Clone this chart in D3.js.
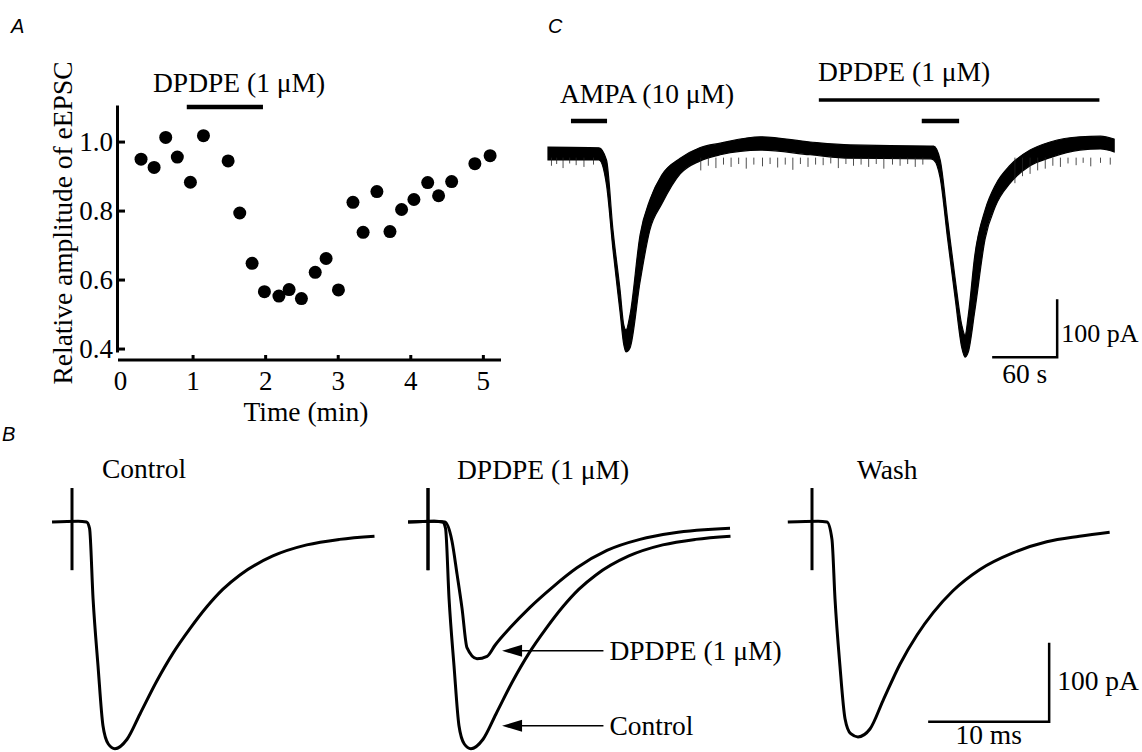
<!DOCTYPE html>
<html>
<head>
<meta charset="utf-8">
<script src="https://cdn.jsdelivr.net/npm/d3@7"></script>
<style>
  body { margin: 0; background: #fff; }
  text { font-family: "Liberation Serif", "Times New Roman", serif; fill: #000; font-size: 27.5px; }
  .letter { font-family: "Liberation Sans", Arial, sans-serif; font-style: italic; font-size: 20px; }
</style>
</head>
<body>
<div id="chart"></div>
<script>
// ---- panel A: relative eEPSC amplitude over time ----
const aTime = [0.29, 0.47, 0.63, 0.79, 0.97, 1.15, 1.49, 1.65, 1.82, 1.99, 2.19, 2.33, 2.50, 2.69,
  2.84, 3.01, 3.21, 3.35, 3.54, 3.72, 3.88, 4.05, 4.24, 4.39, 4.57, 4.89, 5.10];
const aAmp = [0.949, 0.925, 1.012, 0.955, 0.882, 1.017, 0.944, 0.793, 0.647, 0.565, 0.552, 0.571, 0.545, 0.621,
  0.661, 0.570, 0.824, 0.737, 0.855, 0.739, 0.803, 0.832, 0.881, 0.843, 0.884, 0.936, 0.959];
const aXTicks = [0, 1, 2, 3, 4, 5];
const aYTicks = [0.4, 0.6, 0.8, 1.0];
const aDrug = [0.92, 1.97];   // min

// ---- panel B: eEPSC traces (ms, pA) ----
const controlT = [-1.65, 0.5, 1.2, 1.45, 1.74, 2.15, 2.56, 3.0, 3.55, 4.55, 5.62, 7.02, 8.35, 9.75, 11.16, 12.48, 13.88, 16.6, 19.4, 22.1, 25.0];
const controlI = [0, 1, 0, -8, -97, -182, -258, -281, -287, -275, -243, -201, -166, -135, -107, -85, -67, -43, -29, -22, -18];
const dpdpeT = [-1.65, 0.5, 1.4, 1.98, 2.40, 2.81, 3.22, 4.05, 4.88, 5.54, 6.78, 8.43, 10.33, 12.31, 14.79, 17.52, 20.25, 24.96];
const dpdpeI = [0, 1, 0, -24, -66, -109, -159, -173, -170, -156, -134, -108, -82, -58, -36, -22, -14, -8];
const washT = [-2.0, 0.5, 1.24, 1.65, 1.90, 2.31, 2.73, 3.2, 3.80, 4.79, 5.87, 7.27, 8.68, 10.0, 11.65, 13.88, 16.6, 19.4, 22.1, 24.6];
const washI = [0, 1, 0, -22, -97, -182, -249, -268, -272, -262, -226, -180, -143, -115, -87, -60, -39, -25, -18, -13];
const artifact = [43, -61];   // pA, stimulus artefact extent

// ---- panel C: AMPA currents (s, pA), band edges ----
const cTime = [0, 47, 54, 60, 66.5, 70, 72, 75.7, 85, 94, 105, 122, 140, 159, 196, 242, 279, 353,
  356, 362, 369, 376, 382, 385, 388, 394, 403.5, 413, 426.6, 445, 463.5, 491, 510, 522.6];
const cUpper = [10, 9, -12, -133, -236, -297, -305, -279, -141, -81, -38, -9, 9, 17, 28, 19, 14, 12,
  12, -12, -116, -219, -297, -314, -279, -176, -98, -55, -21, 5, 19, 28, 29, 24];
const cLower = [-12, -12, -55, -167, -274, -331, -343, -336, -222, -133, -88, -36, -14, -3, 5, -3, -9, -10,
  -12, -43, -150, -253, -336, -352, -343, -272, -148, -92, -52, -22, -8, 5, 7, 2];
const cSpikes = [[3.2, -22], [8, -19], [13.9, -26], [20, -18], [26, -21], [33.2, -24], [42, -20],
  [141, -30], [148, -22], [155, -26], [162, -20], [169, -24], [176, -19], [183, -27], [190, -20], [198, -23],
  [205, -19], [212, -25], [219, -20], [226, -29], [233, -19], [240, -24], [247, -20], [254, -21], [261, -18],
  [268, -26], [275, -19], [282, -22], [289, -20], [296, -24], [303, -19], [310, -27], [318, -20], [325, -22],
  [332, -19], [339, -24], [346, -20], [431, -52], [438, -40], [445, -36], [452, -30], [459, -27], [466, -22],
  [473, -24], [480, -18], [487.5, -21], [494, -17], [501, -23], [510, -17], [519, -20]];
const cAmpa = [[21.2, 54.5], [345, 379.5]];
const cDpdpe = [250, 509];

const W = 1142, H = 752;
const svg = d3.select("#chart").append("svg")
  .attr("width", W).attr("height", H);
svg.append("rect").attr("width", W).attr("height", H).attr("fill", "#fff");

// panel letters
svg.append("text").attr("class", "letter").attr("x", 11).attr("y", 33).text("A");
svg.append("text").attr("class", "letter").attr("x", 2).attr("y", 441).text("B");
svg.append("text").attr("class", "letter").attr("x", 548).attr("y", 33).text("C");

// ================= A =================
const ax = d3.scaleLinear().domain([0, 5.25]).range([120, 501]);
const ay = d3.scaleLinear().domain([0.39, 1.106]).range([352, 105]);

const yAxis = svg.append("g")
  .attr("transform", "translate(117,0)")
  .call(d3.axisLeft(ay).tickValues(aYTicks).tickFormat(d3.format(".1f"))
    .tickSizeInner(-8).tickSizeOuter(0).tickPadding(4));
const xAxis = svg.append("g")
  .attr("transform", "translate(0,360)")
  .call(d3.axisBottom(ax).tickValues(aXTicks).tickFormat(d3.format("d"))
    .tickSizeInner(-5).tickSizeOuter(0).tickPadding(11));
xAxis.selectAll(".tick").filter(d => d === 0).select("line").remove();
xAxis.select(".domain").attr("d", `M${ax(0) - 2},0H${ax(5.25)}`);

[yAxis, xAxis].forEach(g => {
  g.selectAll("path,line").attr("stroke", "#000").attr("stroke-width", 3);
  g.selectAll("text").style("font-family", '"Liberation Serif", serif').style("font-size", "27px").attr("fill", "#000");
});

svg.append("g").selectAll("circle")
  .data(aTime)
  .join("circle")
  .attr("cx", d => ax(d))
  .attr("cy", (d, i) => ay(aAmp[i]))
  .attr("r", 6.5)
  .attr("fill", "#000");

svg.append("line")
  .attr("x1", ax(aDrug[0])).attr("x2", ax(aDrug[1]))
  .attr("y1", 107).attr("y2", 107)
  .attr("stroke", "#000").attr("stroke-width", 4.5);
svg.append("text").attr("x", 153).attr("y", 92).text("DPDPE (1 μM)");

svg.append("text")
  .attr("transform", "translate(72,223) rotate(-90)")
  .attr("text-anchor", "middle")
  .text("Relative amplitude of eEPSC");
svg.append("text").attr("x", 306).attr("y", 421).attr("text-anchor", "middle").text("Time (min)");

// ================= C =================
const cx = d3.scaleLinear().domain([0, 60]).range([548, 613]);
const cy = d3.scaleLinear().domain([0, -100]).range([153, 211]);

const band = d3.area()
  .x(i => cx(cTime[i]))
  .y0(i => cy(cLower[i]))
  .y1(i => cy(cUpper[i]))
  .curve(d3.curveMonotoneX);
svg.append("path")
  .attr("d", band(d3.range(cTime.length)))
  .attr("fill", "#000").attr("stroke", "#000").attr("stroke-width", 1.2);

svg.append("g").selectAll("line")
  .data(cSpikes)
  .join("line")
  .attr("x1", d => cx(d[0])).attr("x2", d => cx(d[0]))
  .attr("y1", cy(-8)).attr("y2", d => cy(d[1]))
  .attr("stroke", "#222").attr("stroke-width", 0.8);

svg.append("g").selectAll("line")
  .data(cAmpa)
  .join("line")
  .attr("x1", d => cx(d[0])).attr("x2", d => cx(d[1]))
  .attr("y1", 121).attr("y2", 121)
  .attr("stroke", "#000").attr("stroke-width", 4.5);
svg.append("line")
  .attr("x1", cx(cDpdpe[0])).attr("x2", cx(cDpdpe[1]))
  .attr("y1", 100).attr("y2", 100)
  .attr("stroke", "#000").attr("stroke-width", 3.5);
svg.append("text").attr("x", 560).attr("y", 103).text("AMPA (10 μM)");
svg.append("text").attr("x", 818).attr("y", 81).text("DPDPE (1 μM)");

// scale bar C: 60 s, 100 pA
const cBarT = 470, cBarI = -352;
svg.append("path")
  .attr("d", `M${cx(cBarT - 60)},${cy(cBarI)}H${cx(cBarT)}V${cy(cBarI + 100)}`)
  .attr("fill", "none").attr("stroke", "#000").attr("stroke-width", 2.5);
svg.append("text").attr("x", cx(cBarT) + 4).attr("y", 342).style("font-size", "26px").text("100 pA");
svg.append("text").attr("x", cx(cBarT - 30)).attr("y", 383).attr("text-anchor", "middle").text("60 s");

// ================= B =================
const by = d3.scaleLinear().domain([0, -100]).range([522, 601]);
const bScale = origin => d3.scaleLinear().domain([0, 10]).range([origin, origin + 121]);
const xCtl = bScale(72), xMid = bScale(428), xWash = bScale(812);

function trace(xs, T, I) {
  const line = d3.line()
    .x(i => xs(T[i]))
    .y(i => by(I[i]))
    .curve(d3.curveMonotoneX);
  svg.append("path")
    .attr("d", line(d3.range(T.length)))
    .attr("fill", "none").attr("stroke", "#000").attr("stroke-width", 3)
    .attr("stroke-linejoin", "round");
  svg.append("line")
    .attr("x1", xs(0)).attr("x2", xs(0))
    .attr("y1", by(artifact[0])).attr("y2", by(artifact[1]))
    .attr("stroke", "#000").attr("stroke-width", 3);
}
trace(xCtl, controlT, controlI);
trace(xMid, controlT, controlI);
trace(xMid, dpdpeT, dpdpeI);
trace(xWash, washT, washI);

svg.append("text").attr("x", 102).attr("y", 478).text("Control");
svg.append("text").attr("x", 457).attr("y", 479).text("DPDPE (1 μM)");
svg.append("text").attr("x", 857).attr("y", 479).text("Wash");

// arrows in middle panel
const arrows = [["DPDPE (1 μM)", -163], ["Control", -258]];
arrows.forEach(([label, I]) => {
  const y = by(I), tip = xMid(6.12), end = xMid(14.5);
  svg.append("path")
    .attr("d", `M${tip},${y}L${tip + 20},${y - 6}L${tip + 20},${y + 6}Z`)
    .attr("fill", "#000");
  svg.append("line")
    .attr("x1", tip + 18).attr("x2", end)
    .attr("y1", y).attr("y2", y)
    .attr("stroke", "#000").attr("stroke-width", 1.5);
  svg.append("text").attr("x", end + 6).attr("y", y + 9).text(label);
});

// scale bar B: 10 ms, 100 pA
const bBarT = 19.6, bBarI = -253;
svg.append("path")
  .attr("d", `M${xWash(bBarT - 10)},${by(bBarI)}H${xWash(bBarT)}V${by(bBarI + 100)}`)
  .attr("fill", "none").attr("stroke", "#000").attr("stroke-width", 2.5);
svg.append("text").attr("x", xWash(bBarT) + 8).attr("y", 690).text("100 pA");
svg.append("text").attr("x", xWash(bBarT - 5)).attr("y", 744).attr("text-anchor", "middle").text("10 ms");
</script>
</body>
</html>
